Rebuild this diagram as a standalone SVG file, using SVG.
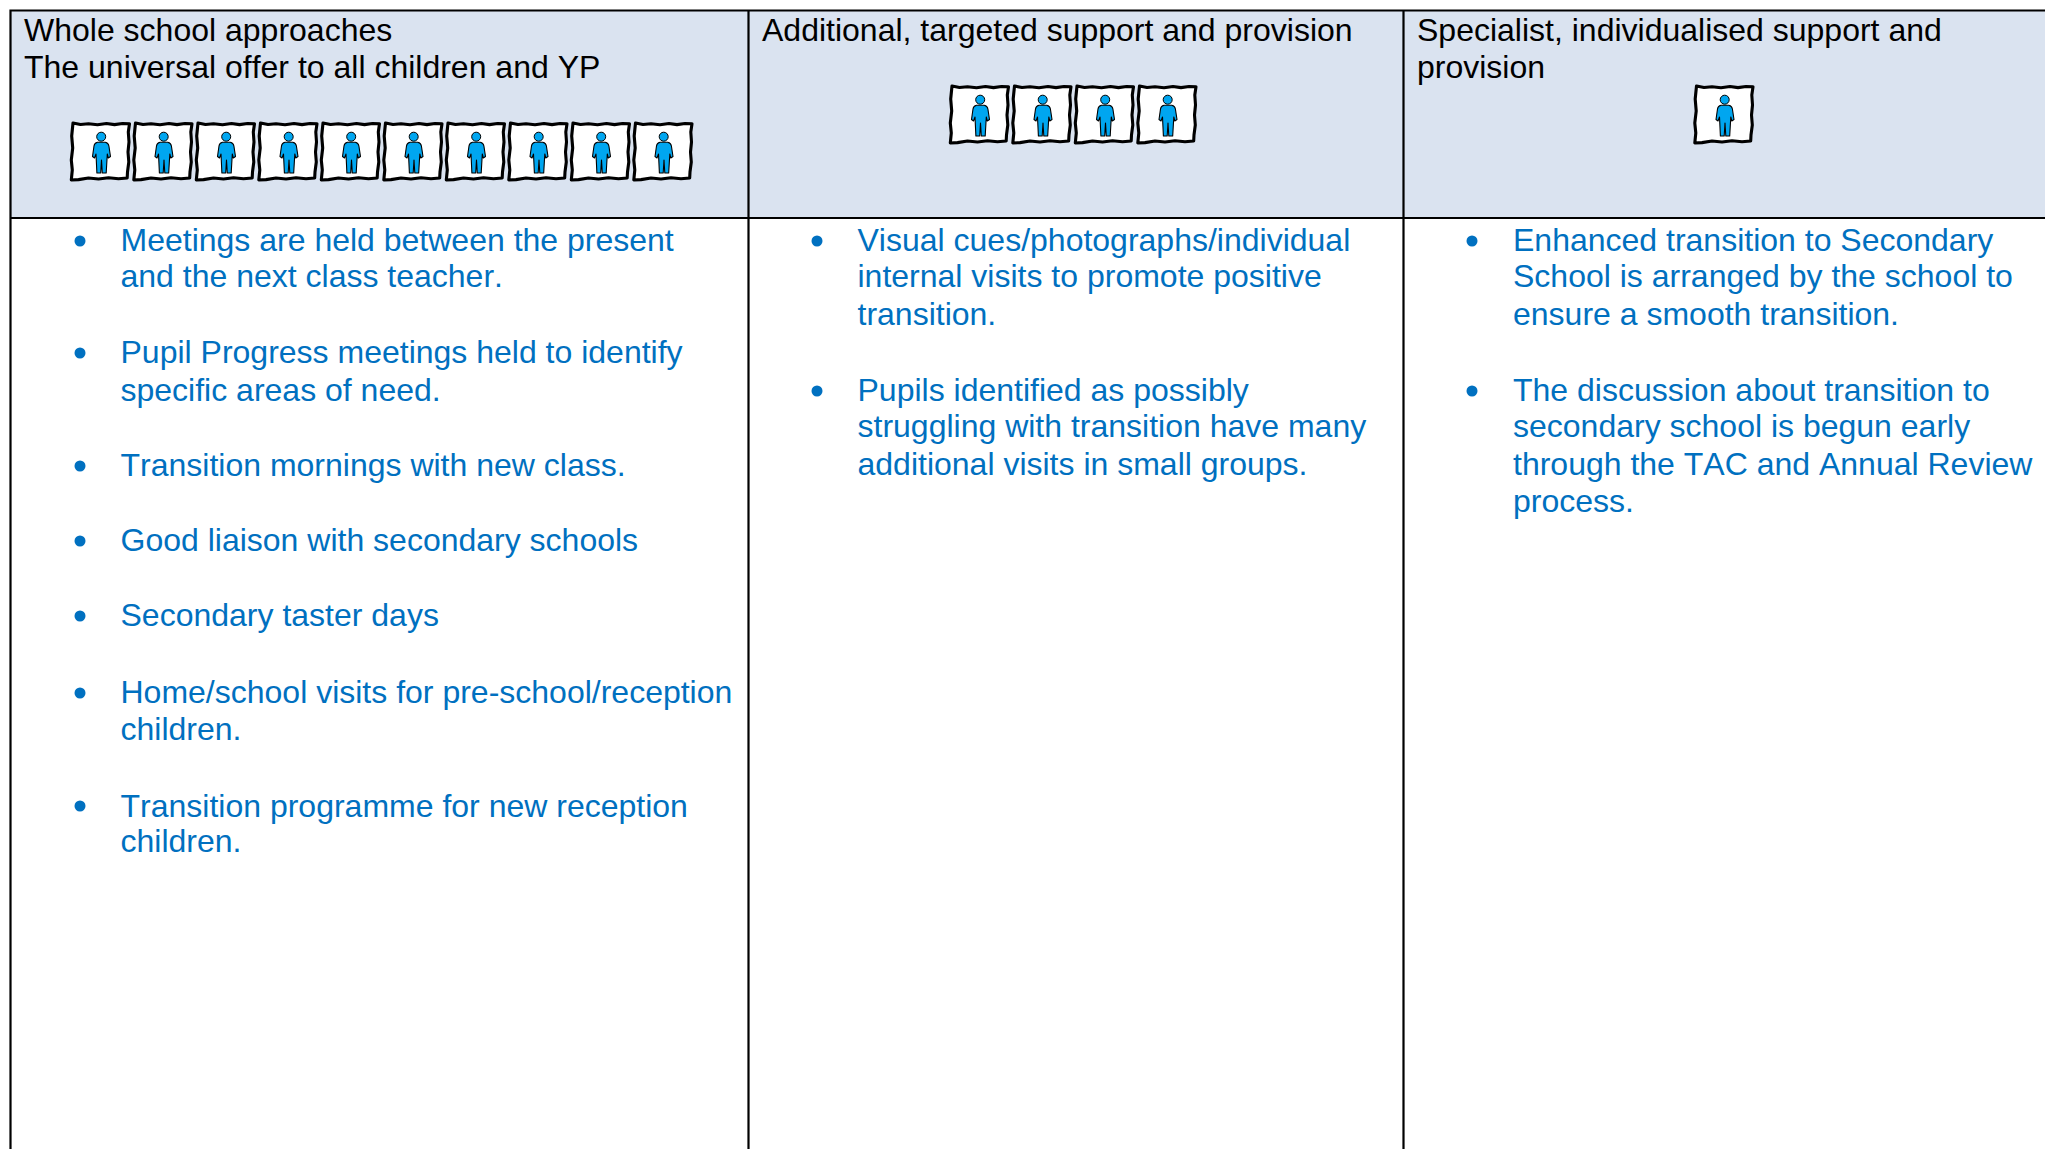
<svg xmlns="http://www.w3.org/2000/svg" width="2045" height="1149" viewBox="0 0 2045 1149">
<style>
text{font-family:"Liberation Sans",Arial,sans-serif;font-size:32px;font-kerning:none}
.h{fill:#000}
.b{fill:#0070c0}
.l{stroke:#000;stroke-width:2.2;fill:none}
</style>
<defs>
<g id="tile">
<path d="M2.500 1 L10 2.500 L18 1.800 L27 2.800 L36 1.500 L44 2.600 L52 1.500 L59 1.800 L57.800 10 L58.500 20 L57.500 30 L58.300 40 L57 50 L56.700 56 L48 56.800 L38 55.800 L28 57 L18 56 L8 57.600 L0.800 58 L1.800 48 L0.800 38 L2.200 26 L1.200 14 Z" fill="#fff" stroke="#000" stroke-width="3.100" stroke-linejoin="round"/>
<circle cx="30.700" cy="14.700" r="4.500" fill="#00a6f0" stroke="#000" stroke-width="1"/>
<path d="M27 20.200 L34.800 20.200 Q38 21 38.400 24 L40 34.500 L37.800 36 L36.800 32 L35.700 51 L31.800 51 L31 38 L30.200 51 L26.400 51 L25.500 32 L24 36 L22 34.500 L23.500 24 Q23.800 21 27 20.200 Z" fill="#00a6f0" stroke="#000" stroke-width="1.100" stroke-linejoin="round"/>
</g>
</defs>
<rect width="2045" height="1149" fill="#fff"/>
<g id="header-fill">
<rect x="10" y="10" width="2035" height="208" fill="#dae3f0"/>
</g>
<g id="grid">
<path class="l" d="M2045 10.500 H10.500 V1149"/>
<path class="l" d="M10 218 H2045 M748.500 10 V1149 M1403.500 10 V1149"/>
</g>
<g id="col1-head">
<text class="h" x="24" y="40.500">Whole school approaches</text>
<text class="h" x="24" y="77.500">The universal offer to all children and YP</text>
<use href="#tile" x="70.500" y="122"/><use href="#tile" x="133" y="122"/><use href="#tile" x="195.500" y="122"/><use href="#tile" x="258" y="122"/><use href="#tile" x="320.500" y="122"/><use href="#tile" x="383" y="122"/><use href="#tile" x="445.500" y="122"/><use href="#tile" x="508" y="122"/><use href="#tile" x="570.500" y="122"/><use href="#tile" x="633" y="122"/>
</g>
<g id="col2-head">
<text class="h" x="762" y="40.500">Additional, targeted support and provision</text>
<use href="#tile" x="949.500" y="85"/><use href="#tile" x="1012" y="85"/><use href="#tile" x="1074.500" y="85"/><use href="#tile" x="1137" y="85"/>
</g>
<g id="col3-head">
<text class="h" x="1417" y="40.500">Specialist, individualised support and</text>
<text class="h" x="1417" y="77.500">provision</text>
<use href="#tile" x="1694" y="85"/>
</g>
<g id="col1-list">
<circle class="b" cx="80" cy="241" r="5.500"/>
<text class="b" x="120.500" y="251">Meetings are held between the present</text>
<text class="b" x="120.500" y="287">and the next class teacher.</text>
<circle class="b" cx="80" cy="353" r="5.500"/>
<text class="b" x="120.500" y="363">Pupil Progress meetings held to identify</text>
<text class="b" x="120.500" y="400.500">specific areas of need.</text>
<circle class="b" cx="80" cy="466" r="5.500"/>
<text class="b" x="120.500" y="476">Transition mornings with new class.</text>
<circle class="b" cx="80" cy="541" r="5.500"/>
<text class="b" x="120.500" y="551">Good liaison with secondary schools</text>
<circle class="b" cx="80" cy="616" r="5.500"/>
<text class="b" x="120.500" y="626">Secondary taster days</text>
<circle class="b" cx="80" cy="693" r="5.500"/>
<text class="b" x="120.500" y="702.500">Home/school visits for pre-school/reception</text>
<text class="b" x="120.500" y="739.500">children.</text>
<circle class="b" cx="80" cy="806" r="5.500"/>
<text class="b" x="120.500" y="816.500">Transition programme for new reception</text>
<text class="b" x="120.500" y="852">children.</text>
</g>
<g id="col2-list">
<circle class="b" cx="817" cy="241" r="5.500"/>
<text class="b" x="857.500" y="251">Visual cues/photographs/individual</text>
<text class="b" x="857.500" y="287">internal visits to promote positive</text>
<text class="b" x="857.500" y="324.500">transition.</text>
<circle class="b" cx="817" cy="391" r="5.500"/>
<text class="b" x="857.500" y="400.500">Pupils identified as possibly</text>
<text class="b" x="857.500" y="437">struggling with transition have many</text>
<text class="b" x="857.500" y="474.500">additional visits in small groups.</text>
</g>
<g id="col3-list">
<circle class="b" cx="1472" cy="241" r="5.500"/>
<text class="b" x="1513" y="251">Enhanced transition to Secondary</text>
<text class="b" x="1513" y="287">School is arranged by the school to</text>
<text class="b" x="1513" y="324.500">ensure a smooth transition.</text>
<circle class="b" cx="1472" cy="391" r="5.500"/>
<text class="b" x="1513" y="400.500">The discussion about transition to</text>
<text class="b" x="1513" y="437">secondary school is begun early</text>
<text class="b" x="1513" y="474.500">through the TAC and Annual Review</text>
<text class="b" x="1513" y="511.500">process.</text>
</g>
</svg>
